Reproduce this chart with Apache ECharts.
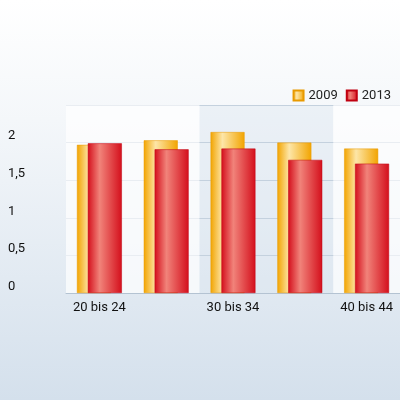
<!DOCTYPE html>
<html><head><meta charset="utf-8">
<script src="https://cdn.jsdelivr.net/npm/echarts@6/dist/echarts.min.js"></script>
<style>html,body{margin:0;padding:0}#c{width:400px;height:400px}</style>
</head><body><div id="c"></div>
<script>
const categories = ['20 bis 24','25 bis 29','30 bis 34','35 bis 39','40 bis 44'];
const values2009 = [1.97, 2.03, 2.14, 2.0, 1.92];
const values2013 = [1.99, 1.91, 1.92, 1.77, 1.72];
const yTicks = ['0','0,5','1','1,5','2'];

function grad(edge, mid){
  return new echarts.graphic.LinearGradient(0,0,1,0,[
    {offset:0,color:edge},{offset:0.35,color:mid},{offset:1,color:edge}]);
}
const chart = echarts.init(document.getElementById('c'));
chart.setOption({
  backgroundColor: new echarts.graphic.LinearGradient(0,0,0,1,[
    {offset:0,color:'#ffffff'},{offset:0.3,color:'#f4f7fa'},{offset:1,color:'#d4e0ec'}]),
  animation:false,
  legend:{right:4, top:84, itemWidth:10, itemHeight:10, itemGap:8, icon:'rect',
    textStyle:{fontFamily:'Roboto', fontSize:13, color:'#222'},
    data:['2009','2013']},
  grid:{left:66, right:0, top:105, bottom:107},
  xAxis:{type:'category', data:categories,
    axisLine:{show:true, lineStyle:{color:'#b4c3d2'}}, axisTick:{show:false},
    splitArea:{show:true, areaStyle:{color:['rgba(255,255,255,0.7)','rgba(220,230,240,0.4)']}},
    axisLabel:{color:'#111', fontSize:13, margin:8, fontFamily:'Roboto'}},
  yAxis:{type:'value', min:0, max:2.5, interval:0.5,
    axisLine:{show:false}, axisTick:{show:false},
    splitLine:{lineStyle:{color:'#b4c3d2'}},
    axisLabel:{align:'left', margin:58, fontSize:13, color:'#111',
      fontFamily:'Roboto', verticalAlign:'bottom',
      formatter:(v)=>{const i=Math.round(v/0.5);return i<yTicks.length?yTicks[i]:'';}}},
  series:[
    {name:'2009', type:'bar', data:values2009, barWidth:34, barGap:'-68%',
      itemStyle:{color:grad('#f2a400','#fde6a8'), borderColor:'#e89a00', borderWidth:0.5}},
    {name:'2013', type:'bar', data:values2013, barWidth:34,
      itemStyle:{color:grad('#d40f1c','#f1837a'), borderColor:'#c00010', borderWidth:0.5}}
  ]
});
</script></body></html>
